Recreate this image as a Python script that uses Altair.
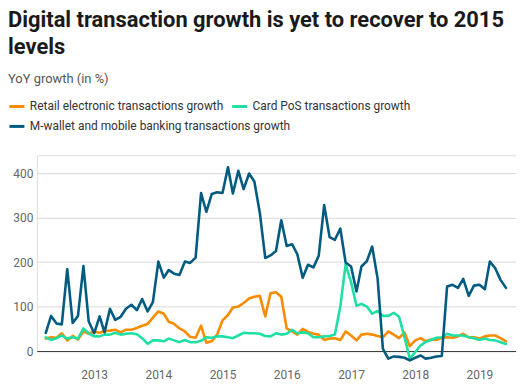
import altair as alt
import pandas as pd

start_year, start_month = 2012, 4

retail = [28, 31, 30, 40, 24, 34, 26, 44, 39, 44, 41, 45, 46, 48, 42, 48, 48, 52, 57, 61,
          75, 89, 84, 66, 61, 51, 44, 32, 30, 57, 19, 22, 37, 69, 81, 98, 100, 108, 118, 122,
          124, 78, 130, 132, 122, 51, 44, 37, 50, 43, 39, 37, 25, 28, 29, 25, 44, 35, 24, 37,
          39, 37, 34, 31, 44, 37, 29, 42, 11, 24, 29, 22, 26, 25, 30, 31, 30, 33, 39, 31,
          31, 28, 33, 35, 35, 29, 22]
card_pos = [31, 25, 29, 35, 28, 31, 28, 51, 40, 33, 33, 37, 37, 41, 37, 39, 40, 38, 29, 16,
            24, 24, 22, 28, 24, 20, 25, 20, 20, 23, 31, 30, 33, 33, 31, 29, 35, 41, 40, 40,
            39, 34, 33, 40, 37, 39, 48, 40, 42, 40, 31, 31, 33, 34, 37, 100, 195, 155, 102, 106,
            100, 84, 90, 79, 79, 86, 77, 31, -17, -2, 13, 20, 25, 30, 31, 39, 35, 35, 35, 31,
            29, 25, 28, 25, 24, 20, 16]
mwallet = [41, 79, 62, 60, 184, 63, 79, 191, 67, 40, 78, 42, 95, 70, 77, 95, 104, 92, 117, 89,
           110, 201, 165, 182, 174, 171, 201, 198, 210, 355, 313, 353, 357, 355, 413, 354, 405, 364, 399, 381,
           311, 209, 215, 225, 294, 236, 240, 218, 165, 194, 188, 214, 328, 256, 250, 275, 199, 190, 134, 190,
           202, 235, 163, 5, -17, -12, -13, -15, -21, -15, -10, -17, -15, -12, -11, 145, 149, 142, 162, 124,
           147, 149, 139, 201, 186, 160, 142]

series_names = ["Retail electronic transactions growth",
                "Card PoS transactions growth",
                "M-wallet and mobile banking transactions growth"]
series_colors = ["#F88B00", "#1FDFA4", "#045B80"]
year_ticks = [2013, 2014, 2015, 2016, 2017, 2018, 2019]
y_ticks = [0, 100, 200, 300, 400]

dates = pd.date_range(f"{start_year}-{start_month:02d}-01", periods=len(retail), freq="MS")
rows = []
for name, vals in zip(series_names, [retail, card_pos, mwallet]):
    for d, v in zip(dates, vals):
        rows.append({"date": d.strftime("%Y-%m-%d"), "value": v, "series": name})
df = pd.DataFrame(rows)

x = alt.X(
    "date:T",
    scale=alt.Scale(type="utc",
                    domain=[alt.DateTime(year=2012, month=2, date=10, utc=True),
                            alt.DateTime(year=2019, month=7, date=28, utc=True)]),
    axis=alt.Axis(
        title=None,
        values=[alt.DateTime(year=y, month=1, date=1, utc=True) for y in year_ticks],
        labelExpr="utcFormat(datum.value, '%Y')",
        grid=False, ticks=False, tickSize=0,
        domainColor="#333333", domainWidth=1,
        labelPadding=19, labelFontSize=12, labelColor="#666666", labelFont="Roboto",
    ),
)
y = alt.Y(
    "value:Q",
    scale=alt.Scale(domain=[0, 440], nice=False, zero=False),
    axis=alt.Axis(
        title=None, values=y_ticks, domain=False, ticks=False, tickSize=0,
        gridColor="#d9d9d9", gridWidth=1,
        labelPadding=4, labelFontSize=12, labelColor="#666666", labelFont="Roboto",
    ),
)

legend_common = dict(
    title=None, orient="none", legendX=-29, direction="horizontal",
    symbolType="stroke", symbolSize=225, symbolStrokeWidth=3,
    labelFontSize=12, labelFont="Roboto", labelColor="#333333",
    labelOffset=4, columnPadding=2, padding=0, labelLimit=400,
)

base = alt.Chart(df).mark_line(strokeWidth=2.6, strokeJoin="round", strokeCap="round")

top_two = base.transform_filter(
    alt.FieldOneOfPredicate(field="series", oneOf=series_names[:2])
).encode(
    x=x, y=y,
    color=alt.Color(
        "series:N",
        scale=alt.Scale(domain=series_names[:2], range=series_colors[:2]),
        sort=series_names[:2],
        legend=alt.Legend(legendY=-58, **legend_common),
    ),
)

third = base.transform_filter(
    alt.FieldEqualPredicate(field="series", equal=series_names[2])
).encode(
    x=x, y=y,
    stroke=alt.Stroke(
        "series:N",
        scale=alt.Scale(domain=series_names[2:], range=series_colors[2:]),
        legend=alt.Legend(legendY=-38, **legend_common),
    ),
)

chart = alt.layer(top_two, third).properties(
    width=482,
    height=197,
    title=alt.TitleParams(
        text=["Digital transaction growth is yet to recover to 2015", "levels"],
        subtitle="YoY growth (in %)",
        anchor="start", frame="bounds",
        font="Roboto", fontSize=22, fontWeight="bold", color="#1a1a1a", lineHeight=27,
        subtitleFont="Roboto", subtitleFontSize=13, subtitleColor="#555555",
        subtitlePadding=14, offset=11,
    ),
).configure_view(stroke=None).configure(padding=0, background="white")

chart.save("out.html", embed_options={"renderer": "svg", "actions": False})
